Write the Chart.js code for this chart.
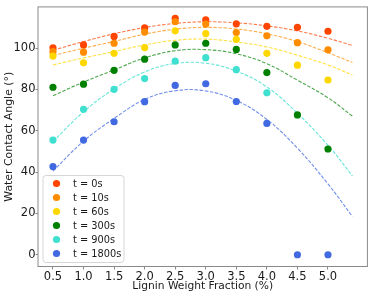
<!DOCTYPE html>
<html><head><meta charset="utf-8">
<script src="https://cdn.jsdelivr.net/npm/chart.js@4.4.1/dist/chart.umd.min.js"></script>
<style>html,body{margin:0;padding:0;background:#fff;overflow:hidden}#wrap{width:371px;height:295px}</style>
</head><body><div id="wrap"><canvas id="c" width="371" height="295"></canvas></div>
<script>
// ---- data ----
const xValues = [0.5, 1.0, 1.5, 2.0, 2.5, 3.0, 3.5, 4.0, 4.5, 5.0];
const xTickValues = [0.5, 1.0, 1.5, 2.0, 2.5, 3.0, 3.5, 4.0, 4.5, 5.0];
const yTickValues = [0, 20, 40, 60, 80, 100];
const seriesLabels = ['t = 0s', 't = 10s', 't = 60s', 't = 300s', 't = 900s', 't = 1800s'];

const angle0s    = [100.2, 101.6, 105.7, 109.8, 114.4, 113.7, 111.8, 110.6, 110.1, 108.2];
const angle10s   = [98.3, 98.1, 102.4, 107.8, 112.8, 111.7, 107.6, 106.0, 102.7, 99.2];
const angle60s   = [96.2, 92.9, 97.5, 100.3, 108.4, 107.1, 104.3, 97.5, 91.8, 84.6];
const angle300s  = [81.1, 82.6, 89.3, 94.7, 101.6, 102.4, 99.4, 88.2, 67.7, 51.2];
const angle900s  = [55.5, 70.4, 80.1, 85.3, 93.7, 95.4, 89.6, 78.4, null, null];
const angle1800s = [42.7, 55.5, 64.4, 74.1, 82.0, 82.8, 74.2, 63.6, 0, 0];

// dashed fit curves
const fitX       = [0.5, 1.0, 1.5, 2.0, 2.5, 3.0, 3.5, 4.0, 4.5, 5.0, 5.4];
const fit0s      = [99.0, 103.2, 107.0, 110.0, 112.0, 112.8, 112.3, 110.8, 108.4, 104.8, 101.3];
const fit10s     = [96.5, 100.0, 103.3, 106.8, 109.2, 110.1, 109.3, 107.0, 103.2, 97.8, 93.1];
const fit60s     = [91.9, 95.3, 98.4, 101.6, 103.8, 104.4, 103.0, 100.6, 96.6, 91.9, 87.0];
const fit300s    = [77.0, 83.6, 89.5, 95.3, 98.8, 99.3, 97.3, 92.5, 84.5, 76.0, 67.1];
const fit900s    = [54.8, 69.2, 80.3, 88.5, 92.6, 92.7, 88.9, 81.2, 68.5, 53.0, 38.2];
const fit1800s   = [40.5, 55.0, 66.0, 75.2, 79.4, 79.3, 74.7, 65.5, 51.6, 34.3, 18.5];

const pointSeries = [angle0s, angle10s, angle60s, angle300s, angle900s, angle1800s];
const fitSeries = [fit0s, fit10s, fit60s, fit300s, fit900s, fit1800s];
const colors = ['#FF4500', '#FF8C00', '#FFD700', '#008000', '#40E0D0', '#4169E1'];
const lineColors = ['rgba(255,69,0,0.7)', 'rgba(255,140,0,0.7)', 'rgba(255,215,0,0.75)', 'rgba(0,128,0,0.7)', 'rgba(64,224,208,0.8)', 'rgba(65,105,225,0.75)'];

const datasets = [];
fitSeries.forEach((ys, i) => {
  datasets.push({
    label: 'fit ' + seriesLabels[i], isFit: true,
    data: fitX.map((x, k) => ({x: x, y: ys[k]})),
    showLine: true, pointRadius: 0, borderColor: lineColors[i], borderWidth: 1.1,
    borderDash: [3.5, 1.6], tension: 0.4, fill: false, order: 20
  });
});
pointSeries.forEach((ys, i) => {
  datasets.push({
    label: seriesLabels[i], isFit: false,
    data: xValues.map((x, k) => ({x: x, y: ys[k]})).filter(p => p.y !== null),
    showLine: false, pointRadius: 3.6, pointHoverRadius: 3.6, borderWidth: 0,
    backgroundColor: colors[i], pointBackgroundColor: colors[i], borderColor: colors[i],
    order: 10 - i
  });
});

const FONT = 'DejaVu Sans';
const axisGray = '#8a8a8a';

const framePlugin = {
  id: 'frame',
  afterDatasetsDraw(chart) {
    const ca = chart.chartArea, ctx = chart.ctx;
    ctx.save();
    ctx.strokeStyle = axisGray; ctx.lineWidth = 1;
    ctx.strokeRect(ca.left, ca.top, ca.right - ca.left, ca.bottom - ca.top);
    // legend
    const bx = ca.left + 5, bw = 81, bh = 87, by = ca.bottom - 4 - bh;
    ctx.beginPath();
    const r = 3;
    ctx.moveTo(bx + r, by); ctx.lineTo(bx + bw - r, by); ctx.arcTo(bx + bw, by, bx + bw, by + r, r);
    ctx.lineTo(bx + bw, by + bh - r); ctx.arcTo(bx + bw, by + bh, bx + bw - r, by + bh, r);
    ctx.lineTo(bx + r, by + bh); ctx.arcTo(bx, by + bh, bx, by + bh - r, r);
    ctx.lineTo(bx, by + r); ctx.arcTo(bx, by, bx + r, by, r); ctx.closePath();
    ctx.fillStyle = 'rgba(255,255,255,0.8)'; ctx.fill();
    ctx.strokeStyle = '#d6d6d6'; ctx.lineWidth = 1; ctx.stroke();
    ctx.font = '9.8px "' + FONT + '"';
    ctx.textBaseline = 'middle'; ctx.textAlign = 'left';
    seriesLabels.forEach((lab, i) => {
      const cy = by + 8 + i * 14;
      ctx.beginPath(); ctx.arc(bx + 13.5, cy, 3.6, 0, Math.PI * 2);
      ctx.fillStyle = colors[i]; ctx.fill();
      ctx.fillStyle = '#1a1a1a';
      ctx.fillText(lab, bx + 30, cy + 0.5);
    });
    ctx.restore();
  }
};

new Chart(document.getElementById('c'), {
  type: 'scatter',
  data: { datasets: datasets },
  options: {
    responsive: false, animation: false, devicePixelRatio: 1,
    layout: { padding: { top: 1, right: 1.5, left: 0, bottom: 0 } },
    plugins: { legend: { display: false }, tooltip: { enabled: false } },
    events: [],
    scales: {
      x: {
        type: 'linear', min: 0.255, max: 5.645,
        afterBuildTicks: s => { s.ticks = xTickValues.map(v => ({value: v})); },
        afterFit: s => { s.height = 28.5; },
        ticks: { autoSkip: false, maxRotation: 0, padding: 1, color: '#1a1a1a',
                 font: { family: FONT, size: 11.5 }, callback: v => Number(v).toFixed(1) },
        grid: { drawOnChartArea: false, drawTicks: true, tickLength: 3, color: axisGray },
        border: { display: false },
        title: { display: true, text: 'Lignin Weight Fraction (%)', color: '#1a1a1a',
                 font: { family: FONT, size: 10.7 }, padding: { top: 0, bottom: 2 } }
      },
      y: {
        type: 'linear', min: -5.7, max: 120,
        afterBuildTicks: s => { s.ticks = yTickValues.map(v => ({value: v})); },
        afterFit: s => { s.width = 38; },
        ticks: { autoSkip: false, padding: 0, color: '#1a1a1a',
                 font: { family: FONT, size: 11.5 }, callback: v => String(v) },
        grid: { drawOnChartArea: false, drawTicks: true, tickLength: 2.5, color: axisGray },
        border: { display: false },
        title: { display: true, text: 'Water Contact Angle (°)', color: '#1a1a1a',
                 font: { family: FONT, size: 10.9 }, padding: { top: 3, bottom: 0 } }
      }
    }
  },
  plugins: [framePlugin]
});
</script></body></html>
